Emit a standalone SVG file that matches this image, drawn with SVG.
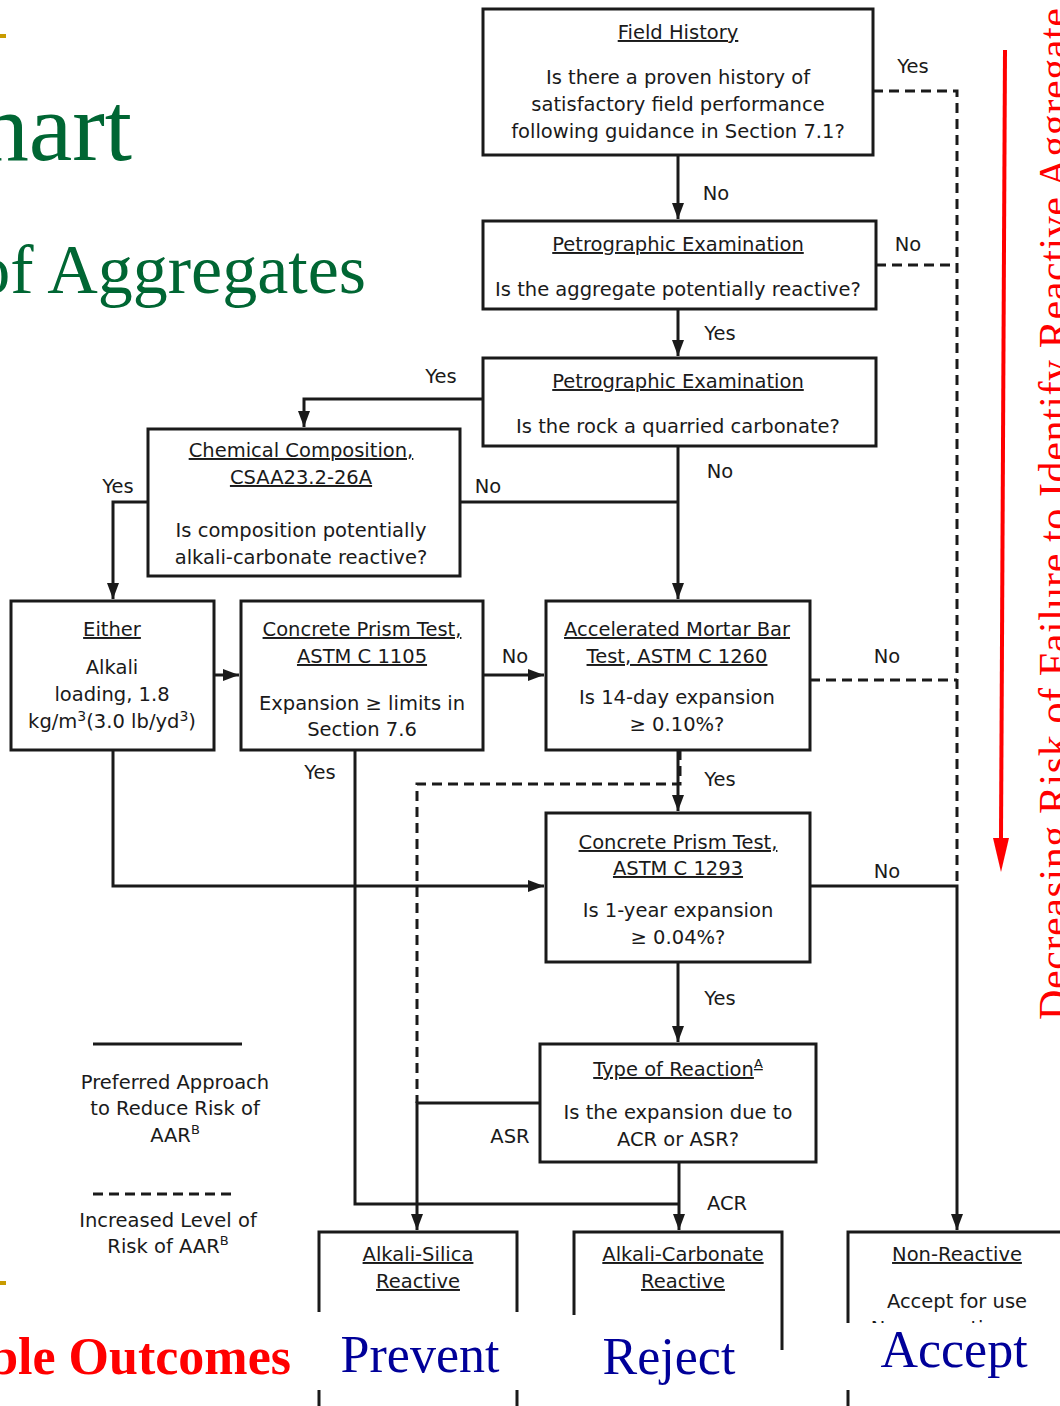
<svg xmlns="http://www.w3.org/2000/svg" width="1060" height="1406" viewBox="0 0 1060 1406">
<style>
.box{fill:#fff;stroke:#1a1a1a;stroke-width:3}
.t{font-family:"DejaVu Sans",Verdana,sans-serif;font-size:19.5px;fill:#1a1a1a;text-anchor:middle}
.u{text-decoration:underline}
.ln{fill:none;stroke:#1a1a1a;stroke-width:3}
.d{stroke-dasharray:10 6}
.big{font-family:"Liberation Serif","Times New Roman",serif;font-size:52px;fill:#000099;text-anchor:middle}
</style>
<defs>
<marker id="ah" viewBox="0 0 16 12" markerWidth="16" markerHeight="12" refX="16" refY="6" orient="auto" markerUnits="userSpaceOnUse">
<path d="M0,0 L16,6 L0,12 z" fill="#1a1a1a"/>
</marker>
<clipPath id="nrclip"><rect x="840" y="1300" width="220" height="23"/></clipPath>
</defs>
<rect width="1060" height="1406" fill="#fff"/>

<g id="decor">
<rect x="0" y="34" width="6" height="4" fill="#c89b00"/>
<rect x="0" y="1281" width="6" height="4" fill="#c89b00"/>
<text x="132" y="160" text-anchor="end" font-family="Liberation Serif,serif" font-size="98" fill="#006633">hart</text>
<text x="366" y="293" text-anchor="end" font-family="Liberation Serif,serif" font-size="70" fill="#006633">of Aggregates</text>
<path d="M1005,50 L1001,838" stroke="#ff0000" stroke-width="4" fill="none"/>
<path d="M993,838 L1009,838 L1001,872 z" fill="#ff0000"/>
<text transform="translate(1068,1020) rotate(-90)" font-family="Liberation Serif,serif" font-size="42" fill="#ff0000" textLength="1012" lengthAdjust="spacing">Decreasing Risk of Failure to Identify Reactive Aggregate</text>
</g>

<g id="connectors">
<path class="ln" d="M678,155 V219" marker-end="url(#ah)"/>
<path class="ln" d="M678,309 V356" marker-end="url(#ah)"/>
<path class="ln" d="M483,399 H304 V427" marker-end="url(#ah)"/>
<path class="ln" d="M678,446 V599" marker-end="url(#ah)"/>
<path class="ln" d="M460,502 H678"/>
<path class="ln" d="M148,502 H113 V599" marker-end="url(#ah)"/>
<path class="ln" d="M214,675 H239" marker-end="url(#ah)"/>
<path class="ln" d="M483,675 H544" marker-end="url(#ah)"/>
<path class="ln" d="M113,750 V886 H544" marker-end="url(#ah)"/>
<path class="ln" d="M355,750 V1204 H679"/>
<path class="ln" d="M678,750 V811" marker-end="url(#ah)"/>
<path class="ln d" d="M680,750 V784 H417 V1103"/>
<path class="ln" d="M540,1103 H417 V1230" marker-end="url(#ah)"/>
<path class="ln" d="M678,962 V1042" marker-end="url(#ah)"/>
<path class="ln" d="M679,1162 V1230" marker-end="url(#ah)"/>
<path class="ln" d="M810,886 H957 V1230" marker-end="url(#ah)"/>
<path class="ln d" d="M873,91 H957 V886"/>
<path class="ln d" d="M876,265 H957"/>
<path class="ln d" d="M810,680 H957"/>
<text class="t" x="913" y="73">Yes</text>
<text class="t" x="716" y="200">No</text>
<text class="t" x="908" y="251">No</text>
<text class="t" x="720" y="340">Yes</text>
<text class="t" x="441" y="383">Yes</text>
<text class="t" x="720" y="478">No</text>
<text class="t" x="118" y="493">Yes</text>
<text class="t" x="488" y="493">No</text>
<text class="t" x="515" y="663">No</text>
<text class="t" x="887" y="663">No</text>
<text class="t" x="320" y="779">Yes</text>
<text class="t" x="720" y="786">Yes</text>
<text class="t" x="887" y="878">No</text>
<text class="t" x="720" y="1005">Yes</text>
<text class="t" x="510" y="1143">ASR</text>
<text class="t" x="727" y="1210">ACR</text>
</g>

<g id="field-history">
<rect class="box" x="483" y="9" width="390" height="146"/>
<text class="t u" x="678" y="39">Field History</text>
<text class="t" x="678" y="84">Is there a proven history of</text>
<text class="t" x="678" y="111">satisfactory field performance</text>
<text class="t" x="678" y="138">following guidance in Section 7.1?</text>
</g>

<g id="petro-1">
<rect class="box" x="483" y="221" width="393" height="88"/>
<text class="t u" x="678" y="251">Petrographic Examination</text>
<text class="t" x="678" y="296">Is the aggregate potentially reactive?</text>
</g>

<g id="petro-2">
<rect class="box" x="483" y="358" width="393" height="88"/>
<text class="t u" x="678" y="388">Petrographic Examination</text>
<text class="t" x="678" y="433">Is the rock a quarried carbonate?</text>
</g>

<g id="chemical">
<rect class="box" x="148" y="429" width="312" height="147"/>
<text class="t u" x="301" y="457">Chemical Composition,</text>
<text class="t u" x="301" y="484">CSAA23.2-26A</text>
<text class="t" x="301" y="537">Is composition potentially</text>
<text class="t" x="301" y="564">alkali-carbonate reactive?</text>
</g>

<g id="either">
<rect class="box" x="11" y="601" width="203" height="149"/>
<text class="t u" x="112" y="636">Either</text>
<text class="t" x="112" y="674">Alkali</text>
<text class="t" x="112" y="701">loading, 1.8</text>
<text class="t" x="112" y="728">kg/m<tspan font-size="14" dy="-7">3</tspan><tspan dy="7">(3.0 lb/yd</tspan><tspan font-size="14" dy="-7">3</tspan><tspan dy="7">)</tspan></text>
</g>

<g id="cpt-1105">
<rect class="box" x="241" y="601" width="242" height="149"/>
<text class="t u" x="362" y="636">Concrete Prism Test,</text>
<text class="t u" x="362" y="663">ASTM C 1105</text>
<text class="t" x="362" y="710">Expansion ≥ limits in</text>
<text class="t" x="362" y="736">Section 7.6</text>
</g>

<g id="ambt">
<rect class="box" x="546" y="601" width="264" height="149"/>
<text class="t u" x="677" y="636">Accelerated Mortar Bar</text>
<text class="t u" x="677" y="663">Test, ASTM C 1260</text>
<text class="t" x="677" y="704">Is 14-day expansion</text>
<text class="t" x="677" y="731">≥ 0.10%?</text>
</g>

<g id="cpt-1293">
<rect class="box" x="546" y="813" width="264" height="149"/>
<text class="t u" x="678" y="849">Concrete Prism Test,</text>
<text class="t u" x="678" y="875">ASTM C 1293</text>
<text class="t" x="678" y="917">Is 1-year expansion</text>
<text class="t" x="678" y="944">≥ 0.04%?</text>
</g>

<g id="type-of-reaction">
<rect class="box" x="540" y="1044" width="276" height="118"/>
<text class="t u" x="678" y="1076">Type of Reaction<tspan font-size="13" dy="-8">A</tspan></text>
<text class="t" x="678" y="1119">Is the expansion due to</text>
<text class="t" x="678" y="1146">ACR or ASR?</text>
</g>

<g id="legend">
<path class="ln" d="M93,1044 H242"/>
<text class="t" x="175" y="1089">Preferred Approach</text>
<text class="t" x="175" y="1115">to Reduce Risk of</text>
<text class="t" x="175" y="1142">AAR<tspan font-size="13" dy="-8">B</tspan></text>
<path class="ln d" d="M93,1194 H237"/>
<text class="t" x="168" y="1227">Increased Level of</text>
<text class="t" x="168" y="1253">Risk of AAR<tspan font-size="13" dy="-8">B</tspan></text>
</g>

<g id="alkali-silica">
<path class="box" d="M319,1420 V1232 H517 V1420"/>
<text class="t u" x="418" y="1261">Alkali-Silica</text>
<text class="t u" x="418" y="1288">Reactive</text>
</g>

<g id="alkali-carbonate">
<path class="box" style="fill:none" d="M574,1315 V1232 H782 V1350"/>
<text class="t u" x="683" y="1261">Alkali-Carbonate</text>
<text class="t u" x="683" y="1288">Reactive</text>
</g>

<g id="non-reactive">
<path class="box" d="M848,1420 V1232 H1070 V1420"/>
<text class="t u" x="957" y="1261">Non-Reactive</text>
<text class="t" x="957" y="1308">Accept for use</text>
<text class="t" x="955" y="1335" clip-path="url(#nrclip)">No precautionary</text>
</g>

<g id="outcomes">
<rect x="315" y="1312" width="208" height="78" fill="#fff"/>
<rect x="844" y="1323" width="216" height="67" fill="#fff"/>
<text x="291" y="1374" text-anchor="end" font-family="Liberation Serif,serif" font-size="52" font-weight="bold" fill="#ff0000">ble Outcomes</text>
<text class="big" x="420" y="1372">Prevent</text>
<text class="big" x="669" y="1374">Reject</text>
<text class="big" x="954" y="1367">Accept</text>
</g>
</svg>
